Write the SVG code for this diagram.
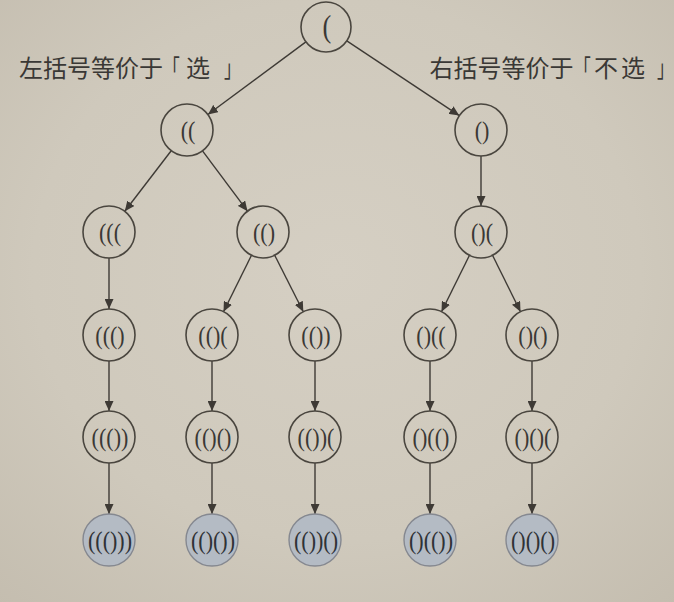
<svg xmlns="http://www.w3.org/2000/svg" width="674" height="602" viewBox="0 0 674 602">
<defs>
<radialGradient id="bg" cx="50%" cy="45%" r="75%">
<stop offset="0" stop-color="#d5cfc3"/>
<stop offset="0.6" stop-color="#cfc9bc"/>
<stop offset="1" stop-color="#c4bdaf"/>
</radialGradient>
<marker id="ah" markerUnits="userSpaceOnUse" markerWidth="11" markerHeight="9" refX="10" refY="4.5" orient="auto">
<path d="M0,0 L10,4.5 L0,9 Z" fill="#3e3a35"/>
</marker>
<style>
.n{fill:none;stroke:#4a463f;stroke-width:1.6}
.leaf{fill:#b4bbc4;stroke:#858890;stroke-width:1.4}
.t{font-family:"Liberation Serif","DejaVu Serif",serif;font-size:26px;fill:#3a3835;text-anchor:middle}
.lt{fill:#2f3236}
.lab{font-family:"Noto Sans CJK SC","Noto Sans",sans-serif;font-size:24px;fill:#3a3835}
.e{stroke:#3e3a35;stroke-width:1.4;fill:none;marker-end:url(#ah)}
</style>
</defs>
<rect width="674" height="602" fill="url(#bg)"/>
<g id="label-left">
<text class="lab" x="19" y="77">左括号等价于</text>
<text class="lab" transform="translate(163,77) scale(0.7,1)">「</text>
<text class="lab" x="186" y="77">选</text>
<text class="lab" transform="translate(224,77) scale(0.7,1)">」</text>
</g>
<g id="label-right">
<text class="lab" x="429.5" y="77">右括号等价于</text>
<text class="lab" transform="translate(574,77) scale(0.7,1)">「</text>
<text class="lab" x="594" y="77">不</text>
<text class="lab" x="621" y="77">选</text>
<text class="lab" transform="translate(657,77) scale(0.7,1)">」</text>
</g>
<g id="connectors">
<line class="e" x1="305.9" y1="41.9" x2="207.9" y2="114.5"/>
<line class="e" x1="346.8" y1="40.8" x2="459.3" y2="115.6"/>
<line class="e" x1="171.2" y1="150.7" x2="124.8" y2="211.3"/>
<line class="e" x1="202.5" y1="150.8" x2="247.5" y2="211.2"/>
<line class="e" x1="481" y1="156" x2="481" y2="206"/>
<line class="e" x1="109" y1="258" x2="109" y2="309"/>
<line class="e" x1="251.5" y1="255.3" x2="223.5" y2="311.7"/>
<line class="e" x1="274.7" y1="255.2" x2="303.3" y2="311.8"/>
<line class="e" x1="469.5" y1="255.3" x2="441.5" y2="311.7"/>
<line class="e" x1="492.5" y1="255.3" x2="520.5" y2="311.7"/>
<line class="e" x1="109" y1="361" x2="109" y2="411"/>
<line class="e" x1="212" y1="361" x2="212" y2="411"/>
<line class="e" x1="315" y1="361" x2="315" y2="411"/>
<line class="e" x1="430" y1="361" x2="430" y2="411"/>
<line class="e" x1="532" y1="361" x2="532" y2="411"/>
<line class="e" x1="109" y1="463" x2="109" y2="514"/>
<line class="e" x1="212" y1="463" x2="212" y2="514"/>
<line class="e" x1="315" y1="463" x2="315" y2="514"/>
<line class="e" x1="430" y1="463" x2="430" y2="514"/>
<line class="e" x1="532" y1="463" x2="532" y2="514"/>
</g>
<g id="n0"><circle class="n" cx="326" cy="27" r="25"/><text class="t" transform="translate(327,37) scale(0.85,1)" style="font-size:31px">(</text></g>
<g id="n1"><circle class="n" cx="187" cy="130" r="26"/><text class="t" transform="translate(188,138.5) scale(0.85,1)">((</text></g>
<g id="n2"><circle class="n" cx="481" cy="130" r="26"/><text class="t" transform="translate(482,138.5) scale(0.85,1)">()</text></g>
<g id="n3"><circle class="n" cx="109" cy="232" r="26"/><text class="t" transform="translate(110,240.5) scale(0.85,1)">(((</text></g>
<g id="n4"><circle class="n" cx="263" cy="232" r="26"/><text class="t" transform="translate(264,240.5) scale(0.85,1)">(()</text></g>
<g id="n5"><circle class="n" cx="481" cy="232" r="26"/><text class="t" transform="translate(482,240.5) scale(0.85,1)">()(</text></g>
<g id="n6"><circle class="n" cx="109" cy="335" r="26"/><text class="t" transform="translate(110,343.5) scale(0.85,1)">((()</text></g>
<g id="n7"><circle class="n" cx="212" cy="335" r="26"/><text class="t" transform="translate(213,343.5) scale(0.85,1)">(()(</text></g>
<g id="n8"><circle class="n" cx="315" cy="335" r="26"/><text class="t" transform="translate(316,343.5) scale(0.85,1)">(())</text></g>
<g id="n9"><circle class="n" cx="430" cy="335" r="26"/><text class="t" transform="translate(431,343.5) scale(0.85,1)">()((</text></g>
<g id="n10"><circle class="n" cx="532" cy="335" r="26"/><text class="t" transform="translate(533,343.5) scale(0.85,1)">()()</text></g>
<g id="n11"><circle class="n" cx="109" cy="437" r="26"/><text class="t" transform="translate(110,445.5) scale(0.85,1)">((())</text></g>
<g id="n12"><circle class="n" cx="212" cy="437" r="26"/><text class="t" transform="translate(213,445.5) scale(0.85,1)">(()()</text></g>
<g id="n13"><circle class="n" cx="315" cy="437" r="26"/><text class="t" transform="translate(316,445.5) scale(0.85,1)">(())(</text></g>
<g id="n14"><circle class="n" cx="430" cy="437" r="26"/><text class="t" transform="translate(431,445.5) scale(0.85,1)">()(()</text></g>
<g id="n15"><circle class="n" cx="532" cy="437" r="26"/><text class="t" transform="translate(533,445.5) scale(0.85,1)">()()(</text></g>
<g id="n16"><circle class="leaf" cx="109" cy="540" r="26"/><text class="t lt" transform="translate(110,548.5) scale(0.85,1)">((()))</text></g>
<g id="n17"><circle class="leaf" cx="212" cy="540" r="26"/><text class="t lt" transform="translate(213,548.5) scale(0.85,1)">(()())</text></g>
<g id="n18"><circle class="leaf" cx="315" cy="540" r="26"/><text class="t lt" transform="translate(316,548.5) scale(0.85,1)">(())()</text></g>
<g id="n19"><circle class="leaf" cx="430" cy="540" r="26"/><text class="t lt" transform="translate(431,548.5) scale(0.85,1)">()(())</text></g>
<g id="n20"><circle class="leaf" cx="532" cy="540" r="26"/><text class="t lt" transform="translate(533,548.5) scale(0.85,1)">()()()</text></g>
</svg>
